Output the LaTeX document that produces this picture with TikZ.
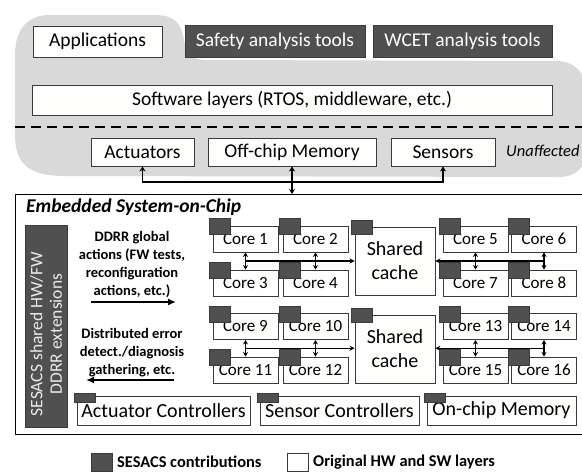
\documentclass[tikz,border=0pt]{standalone}
\usepackage{fontspec}
\setmainfont{Carlito}
\usetikzlibrary{arrows.meta,calc}
\definecolor{blobgray}{HTML}{D9D9D9}
\definecolor{darkfill}{HTML}{505050}
\definecolor{edgecol}{HTML}{3A3A3A}
\definecolor{boxfill}{HTML}{FEFEFC}
\newcommand\fsL{\fontsize{19.5}{23}\selectfont}
\newcommand\fsC{\fontsize{17}{19}\selectfont}
\newcommand\fsS{\fontsize{20}{24}\selectfont}
\newcommand\fsU{\fontsize{16.5}{19}\selectfont\itshape}
\newcommand\fsB{\fontsize{14.5}{18}\selectfont\bfseries}
\newcommand\fsG{\fontsize{16.4}{19}\selectfont\bfseries}
\newcommand\fsBar{\fontsize{17.5}{19.5}\selectfont}
\tikzset{
  box/.style={draw=edgecol, fill=boxfill, line width=0.9pt, inner sep=0pt, font=\fsL},
  dbox/.style={draw=edgecol, fill=darkfill, text=white, line width=0.9pt, inner sep=0pt, font=\fsL},
  corebox/.style={box, minimum width=65pt, minimum height=26pt, font=\fsC},
  cachebox/.style={box, minimum width=80pt, minimum height=68pt, align=center, font=\fsS},
  ctrlbox/.style={box, minimum height=29pt, font=\fsS},
  tabst/.style={draw=edgecol, fill=darkfill, line width=0.7pt},
  conn/.style={line width=1.6pt, draw=black, {Stealth[length=5pt,width=6pt]}-{Stealth[length=5pt,width=6pt]}},
  carr/.style={line width=1.2pt, draw=black, -{Stealth[length=5pt,width=5pt]}},
  cdbl/.style={line width=1.2pt, draw=black, {Stealth[length=4.5pt,width=5pt]}-{Stealth[length=4.5pt,width=5pt]}},
  bigarrow/.style={line width=2.2pt, draw=black, -{Latex[length=8pt,width=7pt]}},
  plaintext/.style={inner sep=0pt}
}
\begin{document}
\begin{tikzpicture}[x=1pt,y=-1pt]
\useasboundingbox (0,0) rectangle (582,474);
\clip (0,0) rectangle (582,474);
\fill[white] (0,0) rectangle (582,474);
% grey blob
\fill[blobgray] (15,55) -- (15,135) .. controls (15,165) and (30,176) .. (65,176)
  -- (558,177) .. controls (576,177) and (586,168) .. (586,150)
  -- (586,92) .. controls (586,72) and (574,61) .. (556,61)
  -- (205,60) .. controls (191,60) and (186,52) .. (184,40)
  .. controls (181,22) and (173,15) .. (155,15)
  -- (50,15) .. controls (27,15) and (15,30) .. (15,55) -- cycle;
% top layer
\node[box, minimum width=129pt, minimum height=31pt] (app) at (97.5,41.5) {Applications};
\node[dbox, minimum width=180pt, minimum height=32pt] (safety) at (275,41) {Safety analysis tools};
\node[dbox, minimum width=179pt, minimum height=32pt] (wcet) at (462.5,41.5) {WCET analysis tools};
\node[box, minimum width=520pt, minimum height=30pt] (sw) at (292,100) {Software layers (RTOS, middleware, etc.)};
\coordinate (dl) at (15,127);
\coordinate (dr) at (590,127);
\draw[line width=2pt, dash pattern=on 10pt off 6pt] (dl) -- (dr);
\node[box, minimum width=103pt, minimum height=28pt] (act) at (142.5,152) {Actuators};
\node[box, minimum width=168pt, minimum height=28pt] (off) at (292,152) {Off-chip Memory};
\node[box, minimum width=104pt, minimum height=28pt] (sen) at (443,152) {Sensors};
\node[plaintext, anchor=west, font=\fsU] (unaff) at (506,151) {Unaffected};
% SoC
\node[draw=black, line width=1.1pt, fill=white, minimum width=590pt, minimum height=240pt, inner sep=0pt, anchor=north west] (soc) at (15,194) {};
\coordinate (bus) at (292,182);
\draw[conn] (act.south) |- (bus) -| (sen.south);
\draw[conn] (off.south) -- (off.south |- soc.north);
\node[plaintext, anchor=west, font=\fsL\bfseries\itshape] (title) at (26,207) {Embedded System-on-Chip};
% dark bar
\node[dbox, minimum width=42pt, minimum height=202pt] (bar) at (46,326) {};
\node[plaintext, rotate=90, text=white!92!black, align=center, font=\fsBar] (bartxt) at (46,334) {SESACS shared HW/FW\\DDRR extensions};
% left texts
\node[plaintext, align=center, font=\fsB] (glob) at (132,265) {DDRR global\\actions (FW tests,\\reconfiguration\\actions, etc.)};
\coordinate (a1s) at (91,302);
\coordinate (a1e) at (176,302);
\draw[bigarrow] (a1s) -- (a1e);
\node[plaintext, align=center, font=\fsB] (dist) at (132,353) {Distributed error\\detect./diagnosis\\gathering, etc.};
\coordinate (a2s) at (174,380);
\coordinate (a2e) at (86,380);
\draw[bigarrow] (a2s) -- (a2e);
% cores
\node[corebox] (c1) at (245.5,239) {Core 1};
\node[corebox] (c2) at (315.5,239) {Core 2};
\node[corebox] (c3) at (245.5,283) {Core 3};
\node[corebox] (c4) at (315.5,283) {Core 4};
\node[corebox] (c5) at (475.5,239) {Core 5};
\node[corebox] (c6) at (544,239) {Core 6};
\node[corebox] (c7) at (475.5,283) {Core 7};
\node[corebox] (c8) at (544,283) {Core 8};
\node[corebox] (c9) at (245.5,326.5) {Core 9};
\node[corebox] (c10) at (315.5,326.5) {Core 10};
\node[corebox] (c11) at (245.5,370) {Core 11};
\node[corebox] (c12) at (315.5,370) {Core 12};
\node[corebox] (c13) at (475.5,326.5) {Core 13};
\node[corebox] (c14) at (544,326.5) {Core 14};
\node[corebox] (c15) at (475.5,370) {Core 15};
\node[corebox] (c16) at (544,370) {Core 16};
\node[cachebox] (sc1) at (395,261) {Shared\\cache};
\node[cachebox] (sc2) at (395,349) {Shared\\cache};
% connectors among cores
\coordinate (m1) at ($(c1.south)!0.5!(c3.north)$);
\draw[carr] (m1) -- (m1 -| sc1.west);
\draw[cdbl] (c1.south) -- (c3.north);
\draw[cdbl] (c2.south) -- (c4.north);
\coordinate (m2) at ($(c6.south)!0.5!(c8.north)$);
\draw[carr] (m2) -- (m2 -| sc1.east);
\draw[cdbl] (c5.south) -- (c7.north);
\draw[cdbl] (c6.south) -- (c8.north);
\coordinate (m3) at ($(c9.south)!0.5!(c11.north)$);
\draw[carr] (m3) -- (m3 -| sc2.west);
\draw[cdbl] (c9.south) -- (c11.north);
\draw[cdbl] (c10.south) -- (c12.north);
\coordinate (m4) at ($(c14.south)!0.5!(c16.north)$);
\draw[carr] (m4) -- (m4 -| sc2.east);
\draw[cdbl] (c13.south) -- (c15.north);
\draw[cdbl] (c14.south) -- (c16.north);
% tabs
\foreach \n in {c1,c2,c3,c4,c5,c6,c7,c8,c9,c10,c11,c12,c13,c14,c15,c16}
  \draw[tabst] ([shift={(-3,-7)}]\n.north west) rectangle ++(21,16);
\foreach \n in {sc1,sc2}
  \draw[tabst] ([shift={(-3,-6)}]\n.north west) rectangle ++(21,14);
% controllers
\node[ctrlbox, minimum width=173pt] (actc) at (163.5,410.5) {Actuator Controllers};
\node[ctrlbox, minimum width=159pt] (senc) at (339.5,410.5) {Sensor Controllers};
\node[ctrlbox, minimum width=149pt] (ocm) at (501.5,410.5) {On-chip Memory};
\foreach \n in {actc,senc,ocm}
  \draw[tabst] ([shift={(-2,-2)}]\n.north west) rectangle ++(21,9);
% legend
\node[dbox, minimum width=21pt, minimum height=18pt] (lg1) at (101.5,462) {};
\node[plaintext, anchor=west, font=\fsG] (lg1t) at (117,462) {SESACS contributions};
\node[box, minimum width=21pt, minimum height=18pt] (lg2) at (297.5,462) {};
\node[plaintext, anchor=west, font=\fsG] (lg2t) at (313,462) {Original HW and SW layers};
\end{tikzpicture}
\end{document}
